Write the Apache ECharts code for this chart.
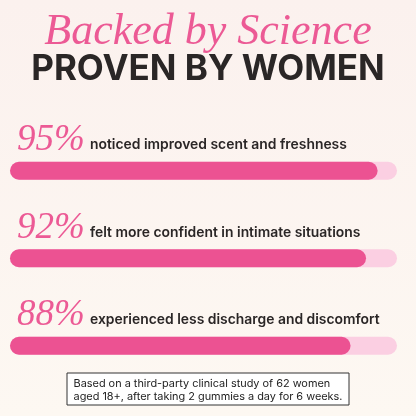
<!DOCTYPE html>
<html><head><meta charset="utf-8">
<script src="https://cdn.jsdelivr.net/npm/echarts@6/dist/echarts.min.js"></script>
<style>html,body{margin:0;padding:0;background:#fcf7f1}#main{width:416px;height:416px}</style>
</head><body><div id="main"></div>
<script>
var stats = ['95%', '92%', '88%'];
var values = [95, 92, 88];
var labels = ['noticed improved scent and freshness', 'felt more confident in intimate situations', 'experienced less discharge and discomfort'];
var chart = echarts.init(document.getElementById('main'));
var graphics = [
  {type:'text', left:'center', top:10, style:{text:'Backed by Science', font:'italic 44px "Liberation Serif", serif', fill:'#ec5a95'}},
  {type:'text', left:'center', top:52, style:{text:'PROVEN BY WOMEN', font:'bold 35px Inter, sans-serif', fill:'#2a2626'}},
  {type:'rect', shape:{x:67, y:373, width:282, height:32}, style:{fill:'#fff', stroke:'#333', lineWidth:1}},
  {type:'text', left:'center', top:377, style:{text:'Based on a third-party clinical study of 62 women\naged 18+, after taking 2 gummies a day for 6 weeks.', font:'10.9px Inter, sans-serif', fill:'#222', align:'center', lineHeight:13}}
];
for (var i = 0; i < stats.length; i++) {
  var y = 122 + i * 87.5;
  graphics.push({type:'text', left:17, top:y, style:{text:stats[i], font:'italic 37px "Liberation Serif", serif', fill:'#ec5a95'}});
  graphics.push({type:'text', left:90, top:y + 16, style:{text:labels[i], font:'600 13.9px Inter, sans-serif', fill:'#2a2626'}});
}
chart.setOption({
  backgroundColor: new echarts.graphic.LinearGradient(0,0,0,1,[{offset:0,color:'#fbf1ee'},{offset:1,color:'#fdf8f2'}]),
  grid: {left:10, right:19, top:127, bottom:26.5},
  xAxis: {type:'value', min:0, max:100, show:false},
  yAxis: {type:'category', data:labels, inverse:true, show:false},
  series: [{
    type:'bar', data:values, barWidth:18,
    showBackground:true,
    backgroundStyle:{color:'#fbcfe2', borderRadius:9},
    itemStyle:{color:'#ec5292', borderRadius:9}
  }],
  graphic: graphics
});
</script></body></html>
